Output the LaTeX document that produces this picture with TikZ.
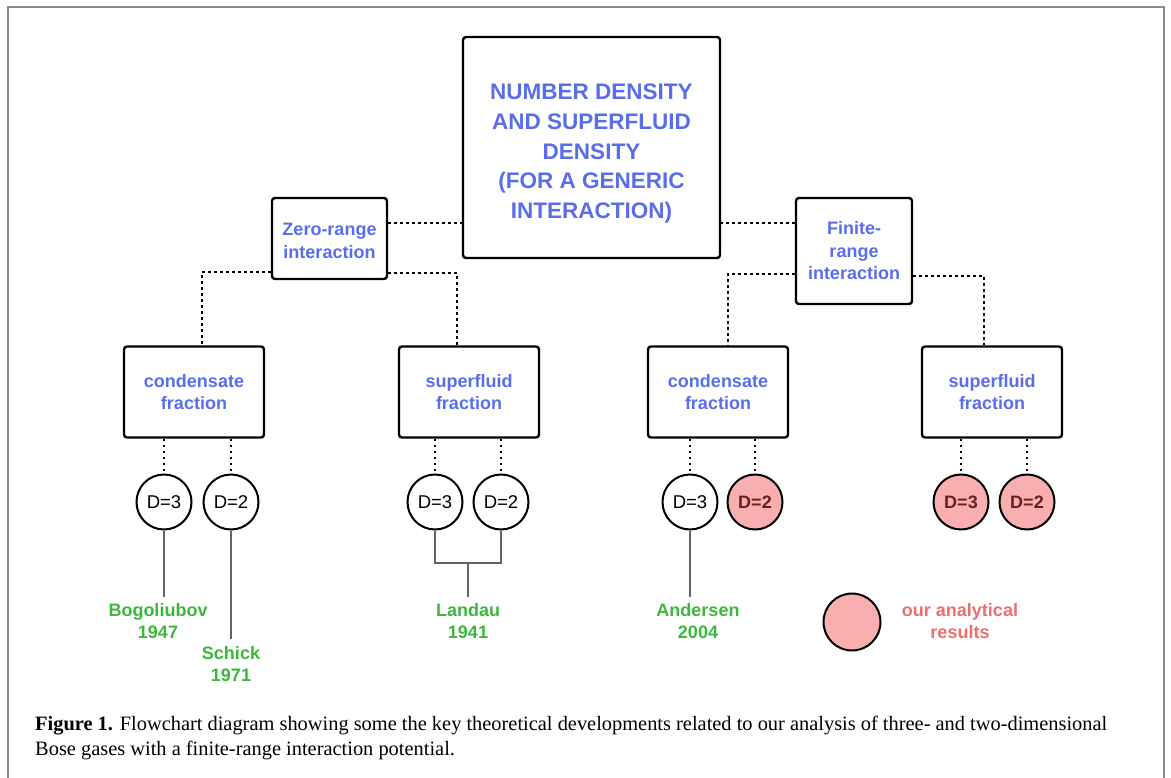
\documentclass[tikz,border=0pt]{standalone}
\usepackage{fontspec}
\setmainfont{Liberation Sans}
\newfontfamily\capfont{Liberation Serif}
\definecolor{tblue}{RGB}{90,110,235}
\definecolor{tgreen}{RGB}{60,185,60}
\definecolor{pinkfill}{RGB}{249,175,175}
\definecolor{pinktext}{RGB}{240,110,110}
\definecolor{darkred}{RGB}{110,30,30}
\definecolor{lgray}{RGB}{100,100,100}
\definecolor{framegray}{RGB}{140,140,140}
\tikzset{
  box/.style={draw=black, line width=2.4pt, rounded corners=3pt, fill=white, inner sep=0pt,
    text=tblue, font=\bfseries\fontsize{18}{22.5}\selectfont, align=center},
  dcircle/.style={circle, draw=black, line width=2pt, minimum size=55pt, inner sep=0pt,
    font=\fontsize{18.5}{22}\selectfont},
  pcircle/.style={dcircle, fill=pinkfill, text=darkred, font=\bfseries\fontsize{18}{22}\selectfont},
  dotline/.style={line width=2.4pt, dash pattern=on 2.4pt off 3.6pt, black},
  solidline/.style={line width=2.6pt, lgray},
  ref/.style={text=tgreen, font=\bfseries\fontsize{18}{22}\selectfont, align=center, inner sep=0pt},
}
\begin{document}
\begin{tikzpicture}[x=1pt,y=-1pt]
\useasboundingbox (0,0) rectangle (1171,778);
\fill[white] (0,0) rectangle (1171,778);
\draw[framegray, line width=2pt] (8,778) -- (8,7) -- (1164,7) -- (1164,778);

% boxes
\node[box, minimum width=257pt, minimum height=221pt, font=\bfseries\fontsize{22.5}{29.6}\selectfont]
  (main) at (591.5,147.5) {\rule{0pt}{28pt}NUMBER DENSITY\\AND SUPERFLUID\\DENSITY\\(FOR A GENERIC\\INTERACTION)};
\node[box, minimum width=115pt, minimum height=81pt] (zero) at (329.5,238.5) {\rule{0pt}{17pt}Zero-range\\interaction};
\node[box, minimum width=116pt, minimum height=106pt] (fin) at (854,251) {Finite-\\range\\interaction};
\node[box, minimum width=140pt, minimum height=91pt] (condL) at (194,392) {condensate\\fraction};
\node[box, minimum width=140pt, minimum height=91pt] (supL) at (469,392) {superfluid\\fraction};
\node[box, minimum width=140pt, minimum height=91pt] (condR) at (718,392) {condensate\\fraction};
\node[box, minimum width=140pt, minimum height=91pt] (supR) at (992,392) {superfluid\\fraction};

% circles
\node[dcircle] (a3) at (164,502) {D=3};
\node[dcircle] (a2) at (231,502) {D=2};
\node[dcircle] (b3) at (435,502) {D=3};
\node[dcircle] (b2) at (501,502) {D=2};
\node[dcircle] (c3) at (690,502) {D=3};
\node[pcircle] (c2) at (755,502) {D=2};
\node[pcircle] (d3) at (961,502) {D=3};
\node[pcircle] (d2) at (1027,502) {D=2};
\node[pcircle, minimum size=57pt] (leg) at (852,622) {};
\node[ref, text=pinktext] (legt) at (960,621) {our analytical\\results};

% references
\node[ref] (bog) at (158,621) {Bogoliubov\\1947};
\node[ref] (sch) at (231,664) {Schick\\1971};
\node[ref] (lan) at (468,621) {Landau\\1941};
\node[ref] (and) at (698,621) {Andersen\\2004};

% dotted connectors
\draw[dotline] (zero.east |- 0,223) -- (main.west |- 0,223);
\draw[dotline] (fin.west |- 0,223) -- (main.east |- 0,223);
\draw[dotline] (zero.west |- 0,272) -| (condL.north -| 202,0);
\draw[dotline] (zero.east |- 0,273) -| (supL.north -| 457,0);
\draw[dotline] (fin.west |- 0,274) -| (condR.north -| 728,0);
\draw[dotline] (fin.east |- 0,276) -| (supR.north -| 984,0);
\foreach \c/\b in {a3/condL,a2/condL,b3/supL,b2/supL,c3/condR,c2/condR,d3/supR,d2/supR}
  \draw[dotline] (\c.north |- \b.south) -- (\c.north);

% solid connectors
\draw[solidline] (a3.south) -- (a3.south |- 0,597);
\draw[solidline] (a2.south) -- (a2.south |- 0,639);
\coordinate (bm) at (468,563);
\draw[solidline] (b3.south) |- (bm) -| (b2.south);
\draw[solidline] (bm) -- (bm |- 0,597);
\draw[solidline] (c3.south) -- (c3.south |- 0,597);

% caption
\node[anchor=base west, inner sep=0pt, align=left, font=\capfont\fontsize{20.4}{25.5}\selectfont] (cap) at (35,755.5)
  {\textbf{Figure 1.} Flowchart diagram showing some the key theoretical developments related to our analysis of three- and two-dimensional\\
   Bose gases with a finite-range interaction potential.};
\end{tikzpicture}
\end{document}
